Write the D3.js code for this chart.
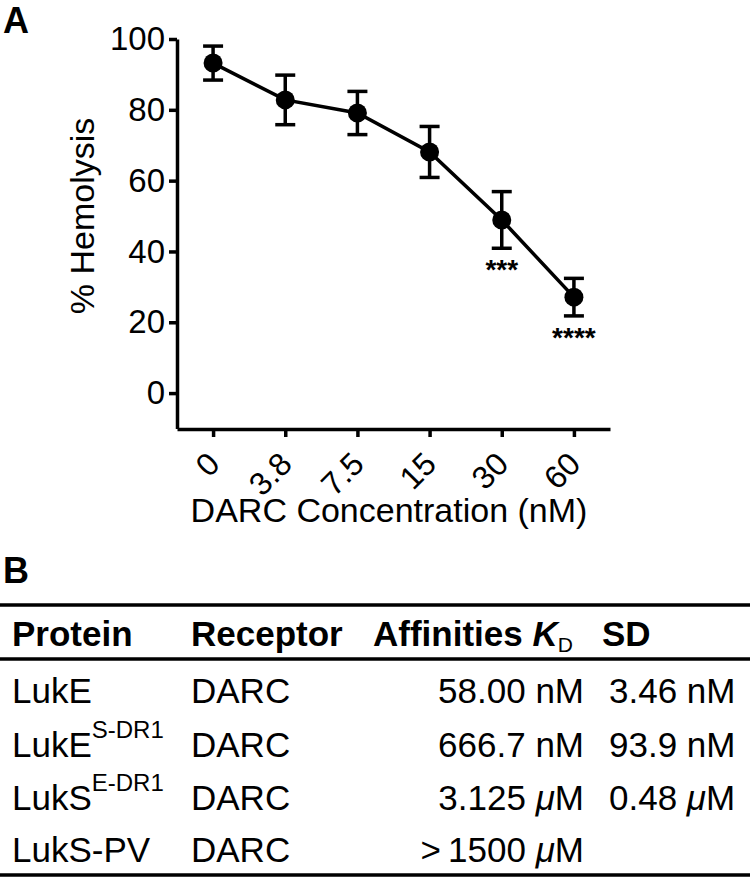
<!DOCTYPE html>
<html>
<head>
<meta charset="utf-8">
<script src="https://cdn.jsdelivr.net/npm/d3@7"></script>
<style>
  html, body { margin: 0; padding: 0; background: #fff; }
  svg { display: block; }
  text { font-family: "Liberation Sans", Arial, Helvetica, sans-serif; fill: #000; }
</style>
</head>
<body>
<svg id="chart" width="750" height="879"></svg>
<script>
// ---- Panel A data ----
const concentrations = ["0", "3.8", "7.5", "15", "30", "60"];
const hemolysis = [93.2, 82.8, 79.1, 68.1, 48.9, 27.1];
const errors = [4.8, 7.0, 6.1, 7.2, 8.0, 5.3];
const significance = ["", "", "", "", "***", "****"];
const yTicks = [0, 20, 40, 60, 80, 100];

// ---- Panel B data ----
const tableHeaders = ["Protein", "Receptor", "Affinities", "SD"];
const proteins = ["LukE", "LukE", "LukS", "LukS-PV"];
const proteinSup = ["", "S-DR1", "E-DR1", ""];
const receptors = ["DARC", "DARC", "DARC", "DARC"];
const affinityValues = ["58.00", "666.7", "3.125", ">\u20091500"];
const affinityUnits = ["nM", "nM", "\u03BCM", "\u03BCM"];
const sdValues = ["3.46", "93.9", "0.48", ""];
const sdUnits = ["nM", "nM", "\u03BCM", ""];

const svg = d3.select("#chart");
const STROKE = 3.5;

// Panel labels
svg.append("text").attr("x", 3).attr("y", 33).attr("font-size", 36).attr("font-weight", "bold").text("A");
svg.append("text").attr("x", 3).attr("y", 583).attr("font-size", 36).attr("font-weight", "bold").text("B");

// Scales
const x = d3.scalePoint().domain(concentrations).range([177, 610]).padding(0.5);
const y = d3.scaleLinear().domain([-10, 100]).range([428.5, 39]);
const axisY = 429;

// Y axis
const gy = svg.append("g").attr("transform", "translate(177,0)")
  .call(d3.axisLeft(y).tickValues(yTicks).tickSize(8).tickSizeOuter(0).tickPadding(4));
gy.select(".domain").attr("stroke-width", STROKE).attr("stroke", "#000");
gy.selectAll(".tick line").attr("stroke-width", STROKE).attr("stroke", "#000");
gy.selectAll(".tick text").attr("font-size", 33).attr("font-family", "Liberation Sans, Arial, sans-serif").attr("fill", "#000");

// X axis
const gx = svg.append("g").attr("transform", `translate(0,${axisY})`)
  .call(d3.axisBottom(x).tickSize(8).tickSizeOuter(0));
gx.select(".domain").attr("stroke-width", STROKE).attr("stroke", "#000");
gx.selectAll(".tick line").attr("stroke-width", STROKE).attr("stroke", "#000");
gx.selectAll(".tick text")
  .attr("font-size", 32).attr("font-family", "Liberation Sans, Arial, sans-serif").attr("fill", "#000")
  .attr("x", 0).attr("y", 0).attr("dy", 0)
  .attr("text-anchor", "end")
  .attr("transform", "translate(8,37) rotate(-45)");

// Axis titles
svg.append("text")
  .attr("transform", "translate(94,216) rotate(-90)")
  .attr("text-anchor", "middle").attr("font-size", 34)
  .text("% Hemolysis");
svg.append("text")
  .attr("x", 389).attr("y", 522)
  .attr("text-anchor", "middle").attr("font-size", 34)
  .text("DARC Concentration (nM)");

// Data series
const pts = concentrations.map((c, i) => ({ c, v: hemolysis[i], e: errors[i], s: significance[i] }));

svg.append("path")
  .datum(pts)
  .attr("fill", "none").attr("stroke", "#000").attr("stroke-width", STROKE)
  .attr("d", d3.line().x(d => x(d.c)).y(d => y(d.v)));

const eb = svg.append("g").selectAll("g").data(pts).join("g");
eb.append("line")
  .attr("x1", d => x(d.c)).attr("x2", d => x(d.c))
  .attr("y1", d => y(d.v + d.e)).attr("y2", d => y(d.v - d.e))
  .attr("stroke", "#000").attr("stroke-width", STROKE);
eb.append("line")
  .attr("x1", d => x(d.c) - 10).attr("x2", d => x(d.c) + 10)
  .attr("y1", d => y(d.v + d.e)).attr("y2", d => y(d.v + d.e))
  .attr("stroke", "#000").attr("stroke-width", STROKE);
eb.append("line")
  .attr("x1", d => x(d.c) - 10).attr("x2", d => x(d.c) + 10)
  .attr("y1", d => y(d.v - d.e)).attr("y2", d => y(d.v - d.e))
  .attr("stroke", "#000").attr("stroke-width", STROKE);

svg.append("g").selectAll("circle").data(pts).join("circle")
  .attr("cx", d => x(d.c)).attr("cy", d => y(d.v)).attr("r", 9.5)
  .attr("fill", "#000");

svg.append("g").selectAll("text").data(pts.filter(d => d.s)).join("text")
  .attr("x", d => x(d.c)).attr("y", d => y(d.v - d.e) + 31)
  .attr("text-anchor", "middle").attr("font-size", 28).attr("font-weight", "bold")
  .text(d => d.s);

// ---- Table ----
const tb = svg.append("g");
const rule = (yy) => tb.append("line").attr("x1", 0).attr("x2", 750).attr("y1", yy).attr("y2", yy)
  .attr("stroke", "#000").attr("stroke-width", STROKE);
rule(605); rule(659); rule(875);

const colX = { protein: 12, receptor: 191, affinity: 373, affRight: 584, sd: 602, sdVal: 609 };
const headerY = 646;
const hdr = tb.append("g").attr("font-size", 35).attr("font-weight", "bold");
hdr.append("text").attr("x", colX.protein).attr("y", headerY).text(tableHeaders[0]);
hdr.append("text").attr("x", colX.receptor).attr("y", headerY).text(tableHeaders[1]);
const affH = hdr.append("text").attr("x", colX.affinity).attr("y", headerY);
affH.append("tspan").text(tableHeaders[2] + " ");
affH.append("tspan").attr("font-style", "italic").text("K");
affH.append("tspan").attr("font-weight", "normal").attr("font-size", 21).attr("dy", 6).text("D");
hdr.append("text").attr("x", colX.sd).attr("y", headerY).text(tableHeaders[3]);

const rowY = [703, 757, 810, 862];
const rows = proteins.map((p, i) => ({ p, sup: proteinSup[i], r: receptors[i], av: affinityValues[i], au: affinityUnits[i], sv: sdValues[i], su: sdUnits[i], y: rowY[i] }));
const rg = tb.append("g").attr("font-size", 35).selectAll("g").data(rows).join("g");

const pt = rg.append("text").attr("x", colX.protein).attr("y", d => d.y);
pt.append("tspan").text(d => d.p);
pt.append("tspan").attr("font-size", 24).attr("dy", -19).text(d => d.sup);

rg.append("text").attr("x", colX.receptor).attr("y", d => d.y).text(d => d.r);

const at = rg.append("text").attr("x", colX.affRight).attr("y", d => d.y).attr("text-anchor", "end");
at.append("tspan").text(d => d.av + " ");
at.append("tspan").attr("font-style", d => d.au === "nM" ? "normal" : "italic").text(d => d.au.charAt(0));
at.append("tspan").text(d => d.au.slice(1));

const st = rg.filter(d => d.sv).append("text").attr("x", colX.sdVal).attr("y", d => d.y);
st.append("tspan").text(d => d.sv + " ");
st.append("tspan").attr("font-style", d => d.su === "nM" ? "normal" : "italic").text(d => d.su.charAt(0));
st.append("tspan").text(d => d.su.slice(1));
</script>
</body>
</html>
